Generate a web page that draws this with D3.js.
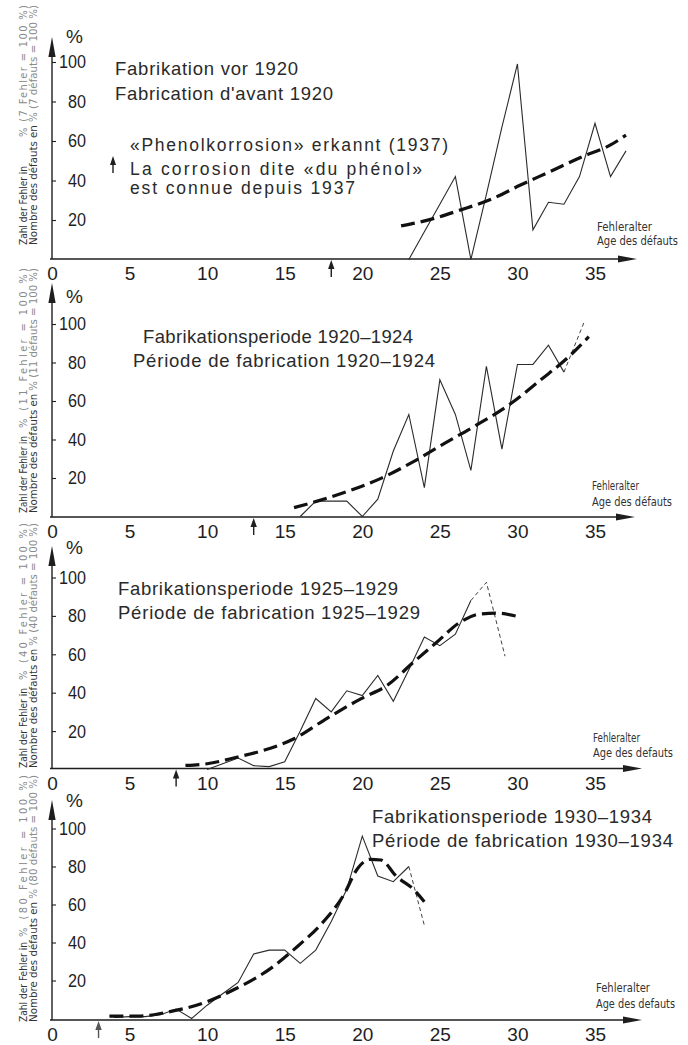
<!DOCTYPE html>
<html>
<head>
<meta charset="utf-8">
<script src="https://cdn.jsdelivr.net/npm/d3@7"></script>
<style>
  html, body { margin: 0; padding: 0; background: #fff; }
  svg { display: block; }
</style>
</head>
<body>
<svg id="chart" width="688" height="1045"></svg>
<script>
// ---------- data ----------
const xTicks = [0, 5, 10, 15, 20, 25, 30, 35];
const yTicks = [20, 40, 60, 80, 100];

// Fabrication before 1920 (7 failures)
const p1Age = [23, 24, 25, 26, 27, 28, 29, 30, 31, 32, 33, 34, 35, 36, 37];
const p1Val = [0, 14, 28, 42, 0, 33, 67, 99, 15, 29, 28, 42, 69, 42, 55];
const p1TrendAge = [22.5, 24.4, 26.3, 28.3, 30.2, 32.1, 34.1, 36, 37];
const p1TrendVal = [17, 20.3, 25, 30.5, 37.7, 44.5, 51.8, 58, 63];
const p1ExtAge = [];
const p1ExtVal = [];

// Fabrication 1920-1924 (11 failures)
const p2Age = [16, 17, 18, 19, 20, 21, 22, 23, 24, 25, 26, 27, 28, 29, 30, 31, 32, 33];
const p2Val = [0, 8, 8, 8, 0, 9, 34, 53, 15, 71, 53, 24, 78, 35, 79, 79, 89, 75];
const p2TrendAge = [15.6, 17.1, 19, 21.2, 23.3, 25.3, 27.2, 29.6, 31.5, 33.2, 34.6];
const p2TrendVal = [4.6, 8, 12.9, 19.8, 28.5, 38, 46.7, 58.8, 71, 82.2, 93.4];
const p2ExtAge = [33, 34.3];
const p2ExtVal = [75, 101];

// Fabrication 1925-1929 (40 failures)
const p3Age = [10, 11, 12, 13, 14, 15, 16, 17, 18, 19, 20, 21, 22, 23, 24, 25, 26, 27];
const p3Val = [0, 3, 6, 2, 1.5, 4, 20, 37, 30, 41, 38.5, 49, 35.5, 52, 69, 64.5, 70.5, 88];
const p3TrendAge = [8.6, 10, 11.9, 13.6, 15.6, 17.5, 19.9, 21.6, 23.3, 24.8, 26.3, 27.6, 28.7, 30];
const p3TrendVal = [2.1, 3, 6.4, 9.9, 16, 25.5, 36.8, 43.8, 55.9, 66.3, 76.7, 81, 81.4, 79.7];
const p3ExtAge = [27, 28, 29.2];
const p3ExtVal = [88, 97.5, 59];

// Fabrication 1930-1934 (80 failures)
const p4Age = [4, 5, 6, 7, 8, 9, 10, 11, 12, 13, 14, 15, 16, 17, 18, 19, 20, 21, 22, 23];
const p4Val = [0.5, 1, 1, 2, 5, 0, 7, 13, 19, 34, 36, 36, 29, 36, 51, 68, 96, 75, 72, 80];
const p4TrendAge = [3.7, 5.7, 7.6, 9.8, 11.9, 14.1, 15.8, 17.3, 18.8, 19.7, 20.5, 21.2, 22.2, 23.3, 24];
const p4TrendVal = [1.3, 1.3, 3.6, 8.3, 15.9, 26.4, 37.8, 49.2, 65, 79, 83.8, 83.4, 74.8, 68, 61.5];
const p4ExtAge = [23, 24];
const p4ExtVal = [80, 49];

// age at which "phenol corrosion" became known (1937)
const markerAges = [18, 13, 8, 3];
const failureCounts = [7, 11, 40, 80];

const p1Titles = ["Fabrikation vor 1920", "Fabrication d'avant 1920",
  "«Phenolkorrosion» erkannt (1937)", "La corrosion dite «du phénol»", "est connue depuis 1937"];
const p2Titles = ["Fabrikationsperiode 1920–1924", "Période de fabrication 1920–1924"];
const p3Titles = ["Fabrikationsperiode 1925–1929", "Période de fabrication 1925–1929"];
const p4Titles = ["Fabrikationsperiode 1930–1934", "Période de fabrication 1930–1934"];
const ageLabels = [["Fehleralter", "Age des défauts"], ["Fehleralter", "Age des défauts"],
  ["Fehleralter", "Age des defauts"], ["Fehleralter", "Age des defauts"]];

// ---------- assemble panels ----------
const panels = [
  { age: p1Age, val: p1Val, tAge: p1TrendAge, tVal: p1TrendVal, eAge: p1ExtAge, eVal: p1ExtVal, titles: p1Titles },
  { age: p2Age, val: p2Val, tAge: p2TrendAge, tVal: p2TrendVal, eAge: p2ExtAge, eVal: p2ExtVal, titles: p2Titles },
  { age: p3Age, val: p3Val, tAge: p3TrendAge, tVal: p3TrendVal, eAge: p3ExtAge, eVal: p3ExtVal, titles: p3Titles },
  { age: p4Age, val: p4Val, tAge: p4TrendAge, tVal: p4TrendVal, eAge: p4ExtAge, eVal: p4ExtVal, titles: p4Titles }
];

// ---------- layout ----------
const layout = [
  { y0: 259.5, y100: 62, axisY: 259, yTip: 37, xTip: 637, pctY: 43,
    lab: { bottom: 245, top: 5, lenA: 79, lenB: 132, full: 240 },
    fehl: { x: 597, y1: 231, y2: 245, w1: 55, w2: 81 },
    titles: [ { x: 115, y: 75, w: 183, fs: 18.5 }, { x: 115, y: 100, w: 218, fs: 18.5 },
              { x: 130, y: 151, w: 318, fs: 17.5 }, { x: 130, y: 174.5, w: 292, fs: 17.5 },
              { x: 130, y: 194, w: 225, fs: 17.5 } ] },
  { y0: 516.5, y100: 324, axisY: 517, yTip: 283, xTip: 635, pctY: 303,
    lab: { bottom: 513, top: 268, lenA: 77, lenB: 160, full: 245 },
    fehl: { x: 592, y1: 490, y2: 506, w1: 47, w2: 80 },
    titles: [ { x: 143, y: 343, w: 270, fs: 18.5 }, { x: 133, y: 367, w: 302, fs: 18.5 } ] },
  { y0: 769.5, y100: 577.5, axisY: 768.5, yTip: 546, xTip: 642, pctY: 554,
    lab: { bottom: 768, top: 523, lenA: 80, lenB: 157, full: 245 },
    fehl: { x: 593, y1: 742, y2: 757, w1: 47, w2: 80 },
    titles: [ { x: 118, y: 595, w: 280, fs: 18.5 }, { x: 118, y: 619, w: 302, fs: 18.5 } ] },
  { y0: 1018.5, y100: 828.5, axisY: 1020, yTip: 800, xTip: 642, pctY: 807,
    lab: { bottom: 1022, top: 775, lenA: 80, lenB: 162, full: 247 },
    fehl: { x: 596, y1: 992, y2: 1008, w1: 54, w2: 79 },
    titles: [ { x: 372, y: 823, w: 280, fs: 18.5 }, { x: 372, y: 847, w: 301, fs: 18.5 } ] }
];

const font = "'Liberation Sans', Arial, Helvetica, sans-serif";
const narrow = "'DejaVu Sans Condensed', 'DejaVu Sans', sans-serif";
const ink = "#1e1e1e";

const svg = d3.select("#chart");
svg.append("rect").attr("width", 688).attr("height", 1045).attr("fill", "#fff");

const x = d3.scaleLinear().domain([0, 35]).range([52, 595]);

panels.forEach((p, i) => {
  const L = layout[i];
  const y = d3.scaleLinear().domain([0, 100]).range([L.y0, L.y100]);
  const g = svg.append("g").attr("class", "panel");
  const ax = x(0);

  // vertical axis with arrowhead
  g.append("line").attr("x1", ax).attr("x2", ax).attr("y1", L.axisY).attr("y2", L.yTip + 12)
    .attr("stroke", ink).attr("stroke-width", 1.4);
  g.append("path")
    .attr("d", `M${ax},${L.yTip} L${ax - 3.6},${L.yTip + 20} L${ax + 3.6},${L.yTip + 20} Z`)
    .attr("fill", ink);

  // horizontal axis with arrowhead
  g.append("line").attr("x1", ax - 2).attr("x2", L.xTip - 10).attr("y1", L.axisY).attr("y2", L.axisY)
    .attr("stroke", ink).attr("stroke-width", 1.4);
  g.append("path")
    .attr("d", `M${L.xTip},${L.axisY} L${L.xTip - 19},${L.axisY - 3.6} L${L.xTip - 19},${L.axisY + 3.6} Z`)
    .attr("fill", ink);

  // y ticks and labels (inside the axis)
  const yAxis = g.append("g").attr("transform", `translate(${ax},0)`)
    .call(d3.axisRight(y).tickValues(yTicks).tickSize(4).tickPadding(6));
  yAxis.select(".domain").remove();
  yAxis.selectAll(".tick line").attr("stroke", ink).attr("stroke-width", 1.1);
  yAxis.selectAll(".tick text")
    .attr("x", 34).attr("text-anchor", "end")
    .attr("font-family", font).attr("font-size", 18.5).attr("fill", ink)
    .attr("textLength", d => String(d).length * 9)
    .attr("lengthAdjust", "spacingAndGlyphs");

  // x tick labels
  const xAxis = g.append("g").attr("transform", `translate(0,${L.axisY})`)
    .call(d3.axisBottom(x).tickValues(xTicks).tickSize(0).tickPadding(8));
  xAxis.select(".domain").remove();
  xAxis.selectAll(".tick text")
    .attr("font-family", font).attr("font-size", 19).attr("fill", ink);

  // percent sign above the axis
  g.append("text").attr("x", 66).attr("y", L.pctY).text("%")
    .attr("font-family", font).attr("font-size", 19).attr("fill", ink);

  // rotated axis title (two lines)
  const lab = L.lab;
  const n = failureCounts[i];
  g.append("text")
    .attr("transform", `translate(26.5,${lab.bottom}) rotate(-90)`)
    .attr("font-family", narrow).attr("font-size", 11).attr("fill", "#333")
    .attr("textLength", lab.lenA).attr("lengthAdjust", "spacingAndGlyphs")
    .text("Zahl der Fehler in");
  g.append("text")
    .attr("transform", `translate(26.5,${lab.top + lab.lenB}) rotate(-90)`)
    .attr("font-family", narrow).attr("font-size", 11).attr("fill", "#8a8a8a")
    .attr("textLength", lab.lenB).attr("lengthAdjust", "spacing")
    .text(`% (${n} Fehler  =  100 %)`);
  const l2 = g.append("text")
    .attr("transform", `translate(37,${lab.bottom}) rotate(-90)`)
    .attr("font-family", narrow).attr("font-size", 11)
    .attr("textLength", lab.full).attr("lengthAdjust", "spacingAndGlyphs");
  l2.append("tspan").attr("fill", "#333").text("Nombre des défauts en ");
  l2.append("tspan").attr("fill", "#8a8a8a").text(`% (${n} défauts = 100 %)`);

  // age label at the end of the horizontal axis
  const F = L.fehl;
  g.append("text").attr("x", F.x).attr("y", F.y1).text(ageLabels[i][0])
    .attr("font-family", narrow).attr("font-size", 12.5).attr("fill", "#333")
    .attr("textLength", F.w1).attr("lengthAdjust", "spacingAndGlyphs");
  g.append("text").attr("x", F.x).attr("y", F.y2).text(ageLabels[i][1])
    .attr("font-family", narrow).attr("font-size", 12.5).attr("fill", "#333")
    .attr("textLength", F.w2).attr("lengthAdjust", "spacingAndGlyphs");

  // titles
  p.titles.forEach((t, k) => {
    const pos = L.titles[k];
    g.append("text").attr("x", pos.x).attr("y", pos.y).text(t)
      .attr("font-family", font).attr("font-size", pos.fs).attr("fill", "#2a2a2a")
      .attr("textLength", pos.w).attr("lengthAdjust", "spacing");
  });

  // marker arrow below the axis (1937)
  const mx = x(markerAges[i]);
  const my = L.axisY + 1;
  const mcol = i === 3 ? "#555" : ink;
  g.append("path").attr("d", `M${mx},${my} L${mx - 3.2},${my + 9} L${mx + 3.2},${my + 9} Z`).attr("fill", mcol);
  g.append("line").attr("x1", mx).attr("x2", mx).attr("y1", my + 8).attr("y2", my + 17)
    .attr("stroke", mcol).attr("stroke-width", 1.4);

  // observed failure percentages
  const thin = d3.line().x(d => x(d[0])).y(d => y(d[1]));
  g.append("path").datum(d3.zip(p.age, p.val)).attr("d", thin)
    .attr("fill", "none").attr("stroke", "#2b2b2b").attr("stroke-width", 1.1)
    .attr("stroke-linejoin", "miter");
  if (p.eAge.length) {
    g.append("path").datum(d3.zip(p.eAge, p.eVal)).attr("d", thin)
      .attr("fill", "none").attr("stroke", "#2b2b2b").attr("stroke-width", 0.9)
      .attr("stroke-dasharray", "4,3");
  }

  // fitted trend (dashed)
  const trend = d3.line().curve(d3.curveMonotoneX).x(d => x(d[0])).y(d => y(d[1]));
  g.append("path").datum(d3.zip(p.tAge, p.tVal)).attr("d", trend)
    .attr("fill", "none").attr("stroke", "#111").attr("stroke-width", 3.2)
    .attr("stroke-dasharray", "14,6");
});

// arrow beside the phenol-corrosion note (top panel)
svg.append("path").attr("d", "M113,156 L110,165 L116,165 Z").attr("fill", ink);
svg.append("line").attr("x1", 113).attr("x2", 113).attr("y1", 164).attr("y2", 173)
  .attr("stroke", ink).attr("stroke-width", 1.4);
</script>
</body>
</html>
